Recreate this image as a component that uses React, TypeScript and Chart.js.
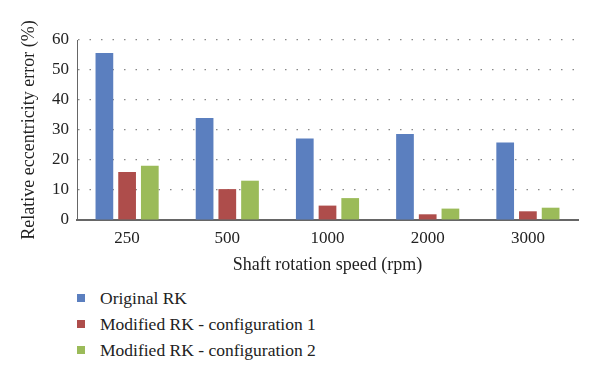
import React, { useEffect, useRef } from "react";
import { Chart, registerables } from "chart.js";

Chart.register(...registerables);

const categories = ["250", "500", "1000", "2000", "3000"];
const originalRK = [55.7, 34, 27.2, 28.7, 25.8];
const modifiedConfig1 = [16, 10.3, 4.8, 1.9, 2.9];
const modifiedConfig2 = [18.1, 13.1, 7.3, 3.8, 4.1];
const seriesNames = ["Original RK", "Modified RK - configuration 1", "Modified RK - configuration 2"];
const seriesColors = ["#5b7fbf", "#ae4d4b", "#9bbb59"];
const yTitle = "Relative eccentricity error (%)";
const xTitle = "Shaft rotation speed (rpm)";

const FONT = "'Liberation Serif', 'DejaVu Serif', serif";

export default function App() {
  const ref = useRef<HTMLCanvasElement | null>(null);

  useEffect(() => {
    if (!ref.current) return;
    const data = [originalRK, modifiedConfig1, modifiedConfig2];
    const chart = new Chart(ref.current, {
      type: "bar",
      data: {
        labels: categories,
        datasets: data.map((d, i) => ({
          label: seriesNames[i],
          data: d,
          backgroundColor: seriesColors[i],
          borderWidth: 0,
          categoryPercentage: 0.68,
          barPercentage: 0.78,
        })),
      },
      options: {
        animation: false,
        responsive: false,
        maintainAspectRatio: false,
        layout: { padding: { top: 40, right: 22, left: 0, bottom: 0 } },
        plugins: { legend: { display: false }, tooltip: { enabled: false } },
        scales: {
          x: {
            grid: { display: false, drawTicks: false },
            border: { display: true, color: "#666", width: 2 },
            ticks: { color: "#222", font: { family: FONT, size: 17 }, padding: 8 },
            title: { display: true, text: xTitle, color: "#222", font: { family: FONT, size: 18 }, padding: { top: 0, bottom: 4 } },
            afterFit: (s: any) => { s.height = 60; },
          },
          y: {
            min: 0,
            max: 60,
            ticks: { stepSize: 10, color: "#222", font: { family: FONT, size: 17 }, padding: 8 },
            grid: {
              color: (ctx: any) => (ctx.tick && ctx.tick.value === 0 ? "rgba(0,0,0,0)" : "#888"),
              drawTicks: false,
              lineWidth: 1.2,
            },
            border: { display: true, color: "#666", width: 1, dash: [1.5, 10] },
            title: { display: true, text: yTitle, color: "#222", font: { family: FONT, size: 18 }, padding: { top: 18, bottom: 4 } },
            afterFit: (s: any) => { s.width = 77; },
          },
        },
      },
    });
    return () => chart.destroy();
  }, []);

  return (
    <div style={{ position: "absolute", left: 0, top: 0, width: 600, height: 383, background: "#fff", fontFamily: FONT }}>
      <canvas ref={ref} width={600} height={280} style={{ display: "block" }} />
      <div style={{ position: "absolute", left: 76, top: 285, color: "#222", fontSize: 17.5 }}>
        {seriesNames.map((n, i) => (
          <div key={n} style={{ display: "flex", alignItems: "center", height: 26 }}>
            <span style={{ display: "inline-block", width: 8, height: 8, background: seriesColors[i], marginLeft: 1, marginRight: 15 }} />
            <span>{n}</span>
          </div>
        ))}
      </div>
    </div>
  );
}
